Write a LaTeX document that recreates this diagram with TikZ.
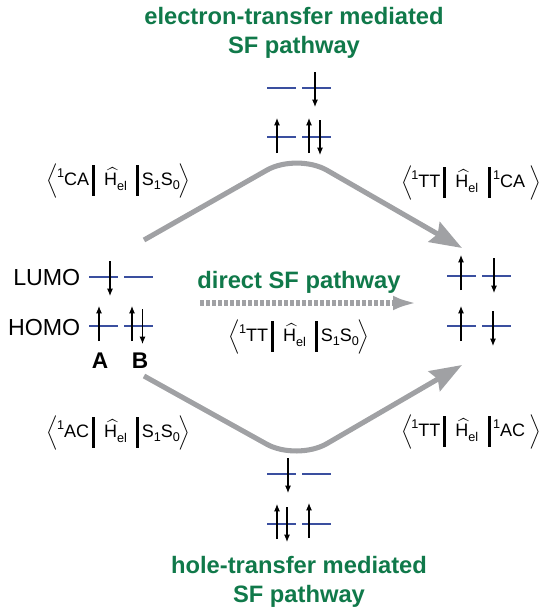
\documentclass[tikz,border=0pt]{standalone}
\usepackage{amsmath}
\usepackage{fontspec}
\setmainfont{Liberation Sans}
\usepackage{tikz}
\usetikzlibrary{arrows.meta}
\definecolor{sfgreen}{HTML}{10794A}
\definecolor{orbblue}{HTML}{3A4F9F}
\definecolor{pathgray}{HTML}{A0A1A4}
\newcommand{\matel}[2]{\fontsize{13.5pt}{16pt}\selectfont
  $\Big\langle$\kern-1pt\raisebox{.45em}{\fontsize{9.5pt}{10pt}\selectfont 1}#1\kern2pt\rule[-7.5pt]{2.2pt}{23pt}\kern7pt
  $\widehat{\mbox{H}\kern3pt}$\kern-3pt\raisebox{-.28em}{\fontsize{9.5pt}{10pt}\selectfont el}\kern7pt\rule[-7.5pt]{2.2pt}{23pt}\kern2pt#2\kern-1pt$\Big\rangle$}
\newcommand{\groundket}{S\raisebox{-.22em}{\fontsize{9.5pt}{10pt}\selectfont 1}S\raisebox{-.22em}{\fontsize{9.5pt}{10pt}\selectfont 0}}
\newcommand{\singlet}[1]{\raisebox{.45em}{\fontsize{9.5pt}{10pt}\selectfont 1}#1}

\begin{document}
\begin{tikzpicture}[
    x=0.75pt, y=-0.75pt,
    level/.style={orbblue, line width=2pt},
    spinup/.style={-{Latex[length=5.5pt,width=4.5pt]}, line width=0.8pt},
    spindown/.style={-{Latex[length=5.5pt,width=4.5pt]}, line width=0.8pt},
    pathway/.style={pathgray, line width=3.8pt, rounded corners=26pt,
                    -{Stealth[length=24pt,width=17pt,inset=3pt]}},
    direct/.style={pathgray, line width=3.8pt, dash pattern=on 3pt off 1.5pt,
                   -{Latex[length=18pt,width=11pt]}},
    title/.style={sfgreen, font=\fontsize{17.8pt}{21.7pt}\bfseries\selectfont, align=center},
    orblabel/.style={font=\fontsize{17.4pt}{20pt}\selectfont},
    molabel/.style={font=\fontsize{17pt}{20pt}\bfseries\selectfont},
    matelem/.style={inner sep=0pt},
  ]
  \useasboundingbox (0,0) rectangle (546,607);

  % titles
  \node[title] (ettitle) at (294,33) {electron-transfer mediated\\SF pathway};
  \node[title] (dirtitle) at (299,282) {direct SF pathway};
  \node[title] (httitle) at (299,581.5) {hole-transfer mediated\\SF pathway};

  % orbital labels
  \node[orblabel, anchor=east] (lumo) at (85,278) {LUMO};
  \node[orblabel, anchor=east] (homo) at (85,328) {HOMO};
  \node[molabel] (a) at (100,361) {A};
  \node[molabel] (b) at (140,361) {B};

  % matrix elements
  \node[matelem] (me1) at (118.5,181) {\matel{CA}{\groundket}};
  \node[matelem] (me2) at (471,183) {\matel{TT}{\singlet{CA}\kern4pt}};
  \node[matelem] (me3) at (299,337) {\matel{TT}{\groundket}};
  \node[matelem] (me4) at (118.5,433) {\matel{AC}{\groundket}};
  \node[matelem] (me5) at (471,432) {\matel{TT}{\singlet{AC}\kern4pt}};

  % orbital levels
  \foreach \lx/\ly in {89/277,124/277,89/326,124/326,
                       267/88,302/88,267/137,302/137,
                       447/276,482/276,447/326,482/326,
                       267/474,302/474,267/524,302/524}
    \draw[level] (\lx,\ly) -- ++(29,0);

  % spins
  \foreach \sx/\sy in {99/341,132/341,277/153,309/153,461/290,461/341,277/539,309/538}
    \draw[spinup] (\sx,\sy) -- ++(0,-35);
  \foreach \sx/\sy in {110/261,142.5/309,315/72,320/120,494/258,493/311,288/458,287/507}
    \draw[spindown] (\sx,\sy) -- ++(0,35);

  % pathways
  \coordinate (start1) at (144,240);
  \coordinate (peak) at (297,153);
  \coordinate (end1) at (462,248);
  \coordinate (start2) at (144,376);
  \coordinate (trough) at (297,461);
  \coordinate (end2) at (462,365);
  \coordinate (dirstart) at (200,303);
  \coordinate (dirend) at (417,303);
  \draw[pathway] (start1) -- (peak) -- (end1);
  \draw[pathway] (start2) -- (trough) -- (end2);
  \draw[direct] (dirstart) -- (dirend);
\end{tikzpicture}
\end{document}
